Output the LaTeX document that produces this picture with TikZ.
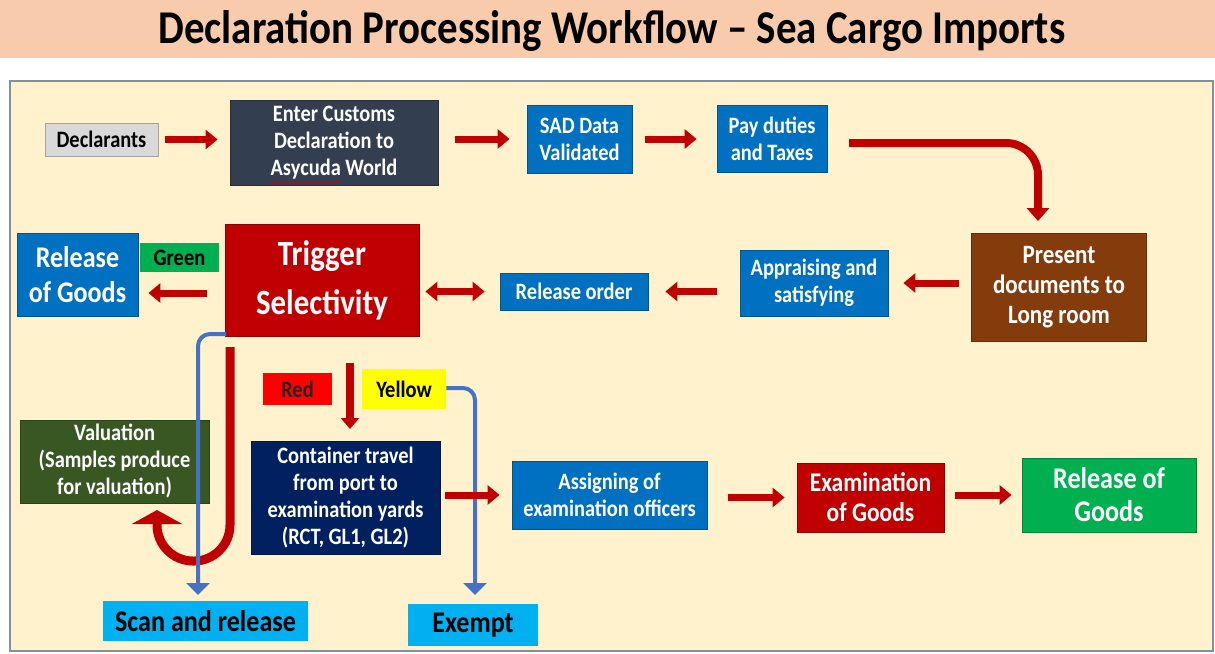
\documentclass[tikz,border=0pt]{standalone}
\usepackage{fontspec}
\setmainfont{Carlito}[FakeStretch=0.87]
\usetikzlibrary{arrows.meta,decorations.pathmorphing}
\definecolor{titlebg}{HTML}{F7CBAC}
\definecolor{panel}{HTML}{FFF2CC}
\definecolor{panelline}{HTML}{7F8FA6}
\definecolor{arrred}{HTML}{C00000}
\definecolor{boxblue}{HTML}{0070C0}
\definecolor{arrblue}{HTML}{4472C4}
\definecolor{lightblue}{HTML}{00B0F0}
\definecolor{navy}{HTML}{002060}
\definecolor{darkgreen}{HTML}{385723}
\definecolor{brightgreen}{HTML}{00B050}
\definecolor{brown}{HTML}{843C0C}
\definecolor{slate}{HTML}{333F50}
\definecolor{lightgray}{HTML}{D9D9D9}
\definecolor{pureRed}{HTML}{FF0000}
\definecolor{pureYellow}{HTML}{FFFF00}
\tikzset{
  bx/.style={rectangle, draw=#1!75!black, fill=#1, line width=0.8pt, inner sep=2pt,
    align=center, text=white, font=\bfseries\fontsize{23.5}{27}\selectfont},
  rar/.style={draw=arrred, line width=7pt, -{Triangle[length=12pt,width=19pt]}},
  dar/.style={draw=arrred, line width=7pt, {Triangle[length=12pt,width=19pt]}-{Triangle[length=12pt,width=19pt]}},
  bar/.style={draw=arrblue, line width=4pt, rounded corners=12pt, -{Triangle[length=12pt,width=23pt]}},
}
\begin{document}
\begin{tikzpicture}[x=1pt,y=-1pt]
\useasboundingbox (0,0) rectangle (1215,653);
\fill[titlebg] (0,0) rectangle (1215,58);
\fill[white] (0,58) rectangle (1215,80);
\draw[panelline, fill=panel, line width=2pt] (10,81) rectangle (1213,651);
\node[font=\bfseries\fontsize{47}{52}\selectfont, text=black] (title) at (612,31) {Declaration Processing Workflow – Sea Cargo Imports};

% top row
\node[bx=lightgray, text=black, minimum width=113pt, minimum height=33pt] (decl) at (101.5,139.5) {Declarants};
\node[bx=slate, minimum width=208pt, minimum height=85pt] (enter) at (334,142.5) {Enter Customs\\Declaration to\\Asycuda World};
\node[bx=boxblue, minimum width=105pt, minimum height=68pt] (sad) at (579.5,139) {SAD Data\\Validated};
\node[bx=boxblue, minimum width=110pt, minimum height=67pt] (pay) at (772,138.5) {Pay duties\\and Taxes};

% middle row
\node[bx=brown, minimum width=175pt, minimum height=108pt, font=\bfseries\fontsize{26.5}{30}\selectfont] (present) at (1059,287) {Present\\documents to\\Long room};
\node[bx=boxblue, minimum width=148pt, minimum height=66pt] (appr) at (814,283) {Appraising and\\satisfying};
\node[bx=boxblue, minimum width=148pt, minimum height=37pt] (relord) at (574,291.5) {Release order};
\node[bx=arrred, minimum width=194pt, minimum height=112pt, font=\bfseries\fontsize{35.5}{49}\selectfont] (trig) at (322,280) {Trigger\\Selectivity};
\node[bx=brightgreen, text=black, draw=none, minimum width=79pt, minimum height=29pt] (green) at (179.5,257.5) {Green};
\node[bx=boxblue, minimum width=121pt, minimum height=83pt, font=\bfseries\fontsize{30}{35}\selectfont] (relL) at (77.5,274.5) {Release\\of Goods};

% lower part
\node[bx=darkgreen, minimum width=189pt, minimum height=83pt] (val) at (114.5,461.5) {Valuation\\(Samples produce\\for valuation)};
\node[bx=pureRed, draw=none, text=black!85, minimum width=69pt, minimum height=32pt] (red) at (297.5,389) {Red};
\node[bx=pureYellow, draw=none, text=black, minimum width=84pt, minimum height=40pt] (yel) at (404,389) {Yellow};
\node[bx=navy, minimum width=189pt, minimum height=113pt] (cont) at (345.5,497.5) {Container travel\\from port to\\examination yards\\(RCT, GL1, GL2)};
\node[bx=boxblue, minimum width=195pt, minimum height=68pt] (assign) at (609.5,495) {Assigning of\\examination officers};
\node[bx=arrred, minimum width=147pt, minimum height=69pt, font=\bfseries\fontsize{27}{30}\selectfont] (exam) at (870.5,497.5) {Examination\\of Goods};
\node[bx=brightgreen, minimum width=174pt, minimum height=74pt, font=\bfseries\fontsize{30}{33}\selectfont] (relR) at (1109,495) {Release of\\Goods};
\node[bx=lightblue, draw=none, text=black, minimum width=205pt, minimum height=40pt, font=\bfseries\fontsize{30}{32}\selectfont] (scan) at (205.5,621) {Scan and release};
\node[bx=lightblue, draw=none, text=black, minimum width=130pt, minimum height=42pt, font=\bfseries\fontsize{30}{32}\selectfont] (exempt) at (473,625) {Exempt};

% spell-check underline
\draw[red!80!black, line width=0.6pt, decorate, decoration={snake, amplitude=0.8pt, segment length=3pt}] (270,182) -- (340,182);

% top row arrows
\draw[rar, shorten <=7pt, shorten >=12pt] (decl.east) -- (decl.east -| enter.west);
\draw[rar, shorten <=17pt, shorten >=17pt] (enter.east |- sad.west) -- (sad.west);
\draw[rar, shorten <=13pt, shorten >=20pt] (sad.east) -- (sad.east -| pay.west);
\coordinate (pcorner) at (1038,143);
\coordinate (pstart) at (849,143);
\coordinate (ptip) at (1038,221);
\draw[rar, line width=8pt, rounded corners=32pt, -{Triangle[length=13pt,width=22pt]}] (pstart) -- (pcorner) -- (ptip);

% middle row arrows
\draw[rar, shorten <=12pt, shorten >=15pt] (present.west |- appr.east) -- (appr.east);
\draw[rar, shorten <=23pt, shorten >=17pt] (appr.west |- relord.east) -- (relord.east);
\draw[dar, shorten <=6pt, shorten >=15pt] (trig.east |- relord.west) -- (relord.west);
\draw[rar, shorten <=18pt, shorten >=10pt] ([yshift=-13pt]trig.west) -- ([yshift=-13pt]trig.west -| relL.east);

% red U arrow to valuation
\coordinate (u1) at (230,347);
\coordinate (u2) at (230,561);
\coordinate (u3) at (157,561);
\coordinate (u4) at (157,510);
\draw[draw=arrred, line width=9pt, rounded corners=36pt, -{Triangle[length=14pt,width=50pt]}] (u1) -- (u2) -- (u3) -- (u4);

% blue from trigger to scan
\coordinate (b1) at (226,334);
\coordinate (b2) at (198,334);
\coordinate (b3) at (198,595);
\draw[bar] (b1) -- (b2) -- (b3);

% red arrow down to container
\coordinate (r1) at (350,363);
\coordinate (r2) at (350,429);
\draw[rar, line width=8pt, -{Triangle[length=11pt,width=18pt]}] (r1) -- (r2);

% blue from yellow to exempt
\coordinate (y2) at (475,388);
\coordinate (y3) at (475,595);
\draw[bar] (yel.east |- y2) -- (y2) -- (y3);

% bottom row arrows
\draw[rar, shorten <=5pt, shorten >=12pt] (cont.east |- assign.west) -- (assign.west);
\draw[rar, shorten <=21pt, shorten >=12pt] (assign.east |- exam.west) -- (exam.west);
\draw[rar, shorten <=11pt, shorten >=10pt] (exam.east |- relR.west) -- (relR.west);
\end{tikzpicture}
\end{document}
